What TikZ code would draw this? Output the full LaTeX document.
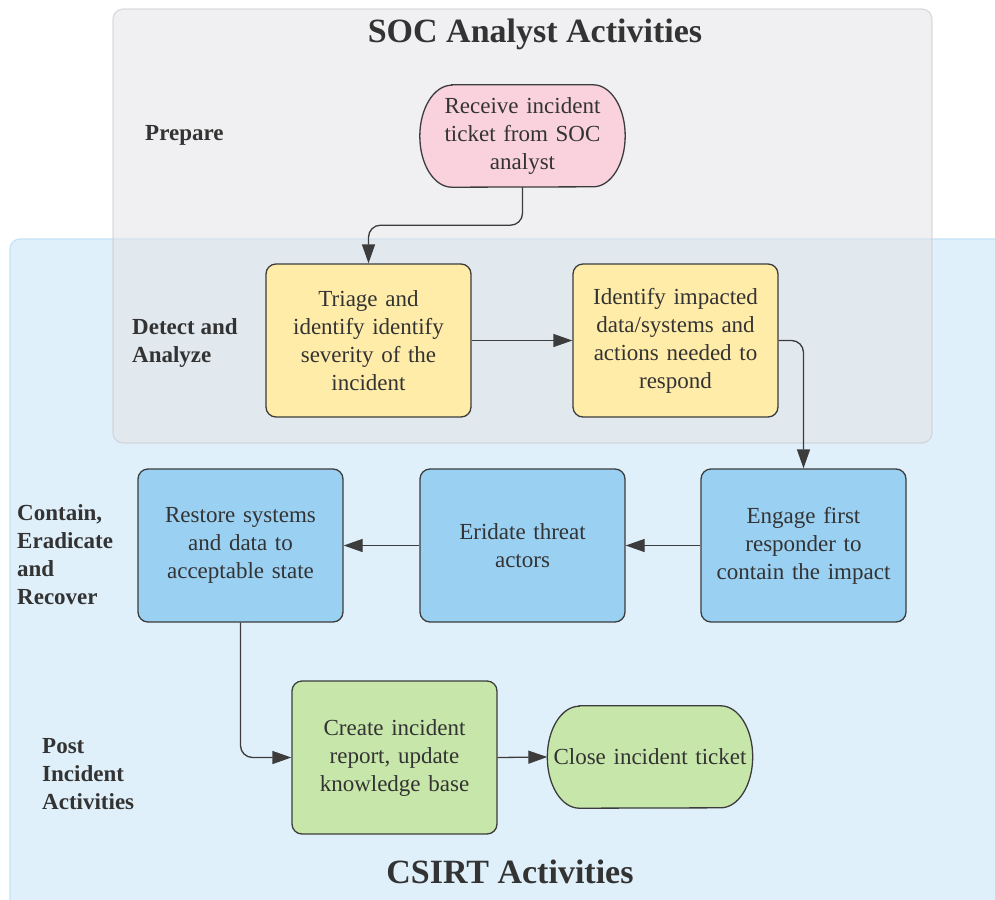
\documentclass[tikz,border=0pt]{standalone}
\usepackage{fontspec}
\setmainfont{Liberation Serif}
\usetikzlibrary{arrows.meta}

\definecolor{ink}{RGB}{51,51,51}
\definecolor{edge}{RGB}{60,60,60}
\definecolor{pinkfill}{RGB}{249,210,222}
\definecolor{yellowfill}{RGB}{255,236,169}
\definecolor{bluefill}{RGB}{154,208,242}
\definecolor{greenfill}{RGB}{199,230,170}
\definecolor{csirtfill}{RGB}{224,240,250}
\definecolor{csirtline}{RGB}{195,227,246}
\definecolor{socfill}{RGB}{226,225,228}
\definecolor{socline}{RGB}{200,200,204}

\pgfdeclarelayer{bottom}
\pgfdeclarelayer{background}
\pgfsetlayers{bottom,background,main}

\tikzset{
  bodytext/.style={font=\fontsize{23}{28}\selectfont, text=ink},
  procbox/.style={bodytext, draw=edge, line width=1.3pt, rounded corners=10pt,
    minimum width=205pt, minimum height=153pt, inner sep=0pt,
    text width=200pt, align=center},
  terminal/.style={bodytext, minimum width=205pt, minimum height=102pt,
    inner sep=0pt, text width=200pt, align=center},
  termshape/.style={draw=edge, line width=1.3pt},
  phase/.style={font=\fontsize{23}{28}\selectfont\bfseries, text=ink,
    anchor=west, align=left, inner sep=0pt},
  lanetitle/.style={font=\fontsize{34}{40}\selectfont\bfseries, text=ink, inner sep=0pt},
  conn/.style={draw=edge, line width=1.3pt, rounded corners=12pt,
    -{Triangle[length=19pt,width=13pt]}, color=edge},
}

\newcommand{\stadium}[3]{% node name, fill colour, end radius
  \path[termshape, fill=#2]
    ([xshift=#3]#1.north west) -- ([xshift=-#3]#1.north east)
    arc[start angle=90, end angle=-90, x radius=#3, y radius=51pt]
    -- ([xshift=#3]#1.south west)
    arc[start angle=270, end angle=90, x radius=#3, y radius=51pt]
    -- cycle;}

\begin{document}
\begin{tikzpicture}[x=1pt,y=-1pt]
\clip (0,0) rectangle (995,899);

% swim lanes
\begin{pgfonlayer}{bottom}
  \draw[fill=csirtfill, draw=csirtline, line width=1.2pt, rounded corners=10pt]
    (10,239) rectangle (1030,930);
  \draw[fill=socfill, draw=socline, line width=1.2pt, rounded corners=10pt,
        fill opacity=0.52, draw opacity=0.6]
    (113,9) rectangle (932,443);
\end{pgfonlayer}

\node[lanetitle] (soctitle) at (535,34) {SOC Analyst Activities};
\node[lanetitle] (csirttitle) at (510,872) {CSIRT Activities};

% phase labels
\node[phase] (prepare) at (145,135) {Prepare};
\node[phase] (detect) at (132,342.5) {Detect and\\Analyze};
\node[phase] (contain) at (17,555) {Contain,\\Eradicate\\and\\Recover};
\node[phase] (post) at (42,774) {Post\\Incident\\Activities};

% process steps
\node[terminal] (receive) at (522.5,136) {Receive incident\\ticket from SOC\\analyst};
\node[procbox, fill=yellowfill] (triage) at (368.5,340.5)
  {Triage and\\identify identify\\severity of the\\incident};
\node[procbox, fill=yellowfill] (impact) at (675.5,340.5)
  {Identify impacted\\data/systems and\\actions needed to\\respond};
\node[procbox, fill=bluefill] (engage) at (803.5,545.5)
  {Engage first\\responder to\\contain the impact};
\node[procbox, fill=bluefill] (eridate) at (522.5,545.5)
  {Eridate threat\\actors};
\node[procbox, fill=bluefill] (restore) at (240.5,545.5)
  {Restore systems\\and data to\\acceptable state};
\node[procbox, fill=greenfill] (report) at (394.5,757.5)
  {Create incident\\report, update\\knowledge base};
\node[terminal] (close) at (650,757) {Close incident ticket};

\begin{pgfonlayer}{background}
  \stadium{receive}{pinkfill}{32pt}
  \stadium{close}{greenfill}{32pt}
\end{pgfonlayer}

% connectors
\draw[conn] (receive.south) -- ++(0,38) -| (triage.north);
\draw[conn] (triage.east) -- (impact.west);
\draw[conn] (impact.east) -| (engage.north);
\draw[conn] (engage.west) -- (eridate.east);
\draw[conn] (eridate.west) -- (restore.east);
\draw[conn] (restore.south) |- (report.west);
\draw[conn] (report.east) -- (close.west);
\end{tikzpicture}
\end{document}
